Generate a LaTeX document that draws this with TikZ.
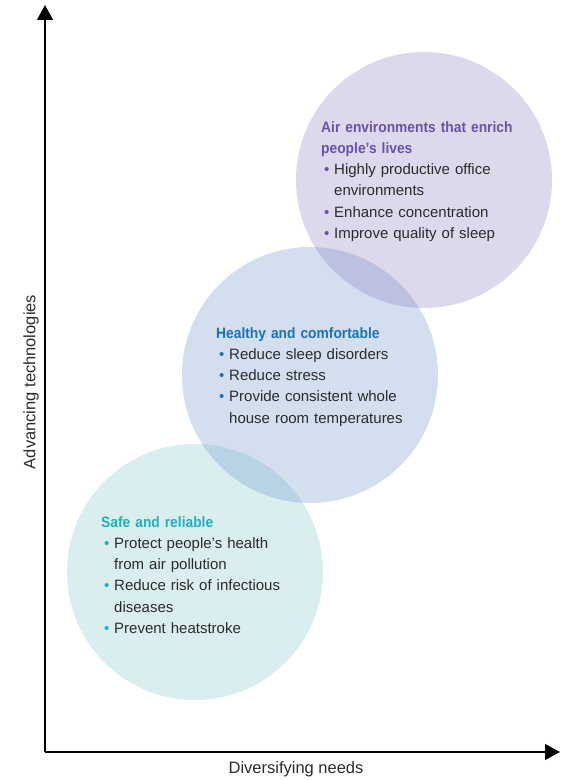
\documentclass[tikz,border=0pt]{standalone}
\usepackage{fontspec}
\setmainfont{Liberation Sans}
\newfontface\headfont{Liberation Sans Bold}[FakeStretch=0.92]
\usepackage{xcolor}
\usetikzlibrary{arrows.meta, positioning}
\definecolor{ovSafe}{HTML}{6BBBC3}
\definecolor{ovHealth}{HTML}{6C94CA}
\definecolor{ovAir}{HTML}{8E7DC0}
\definecolor{ovSafeHead}{HTML}{1FB0BD}
\definecolor{ovHealthHead}{HTML}{1B72B8}
\definecolor{ovAirHead}{HTML}{6654A4}
\definecolor{ovText}{HTML}{2B2B2B}
% bullet line and its continuation line
\newcommand{\ovitem}[2]{\par\noindent\hspace*{3pt}\makebox[10pt][l]{\textcolor{#1}{\textbullet}}#2}
\newcommand{\ovcont}[1]{\par\noindent\hspace*{13pt}#1}
\tikzset{
  ovbubble/.style={circle, draw=none, minimum size=256pt, inner sep=0pt, fill opacity=0.3},
  ovlist/.style={anchor=north west, inner sep=0pt, align=left, text=ovText,
    font=\fontsize{15}{21.3}\selectfont},
  axisline/.style={-{Triangle[length=15pt, width=16pt]}, line width=1.2pt, black},
  axislabel/.style={font=\fontsize{16.5}{20}\selectfont, text=ovText, inner sep=0pt}
}
\begin{document}
\begin{tikzpicture}[x=1pt, y=1pt]
  \useasboundingbox (0,0) rectangle (579,780);
  % bubbles
  \node[ovbubble, fill=ovSafe, fill opacity=0.25] (safe) at (195,208) {};
  \node[ovbubble, fill=ovHealth] (health) at (310,405) {};
  \node[ovbubble, fill=ovAir] (air) at (424,600) {};
  % axes
  \coordinate (orig) at (45,28);
  \coordinate (ytip) at (45,775);
  \coordinate (xtip) at (560,28);
  \draw[axisline] (orig) -- (ytip);
  \draw[axisline] (orig) -- (xtip);
  \node[axislabel, rotate=90] (ylab) at (31,398) {Advancing technologies};
  \node[axislabel] (xlab) at (296,11) {Diversifying needs};
  % texts
  \node[ovlist, text width=215pt] (airtxt) at (321,659) {%
    {\headfont\color{ovAirHead}Air environments that enrich\\people’s lives}
    \ovitem{ovAirHead}{Highly productive office}
    \ovcont{environments}
    \ovitem{ovAirHead}{Enhance concentration}
    \ovitem{ovAirHead}{Improve quality of sleep}};
  \node[ovlist, text width=215pt] (healthtxt) at (216,453) {%
    {\headfont\color{ovHealthHead}Healthy and comfortable}
    \ovitem{ovHealthHead}{Reduce sleep disorders}
    \ovitem{ovHealthHead}{Reduce stress}
    \ovitem{ovHealthHead}{Provide consistent whole}
    \ovcont{house room temperatures}};
  \node[ovlist, text width=215pt] (safetxt) at (101,264) {%
    {\headfont\color{ovSafeHead}Safe and reliable}
    \ovitem{ovSafeHead}{Protect people’s health}
    \ovcont{from air pollution}
    \ovitem{ovSafeHead}{Reduce risk of infectious}
    \ovcont{diseases}
    \ovitem{ovSafeHead}{Prevent heatstroke}};
\end{tikzpicture}
\end{document}
